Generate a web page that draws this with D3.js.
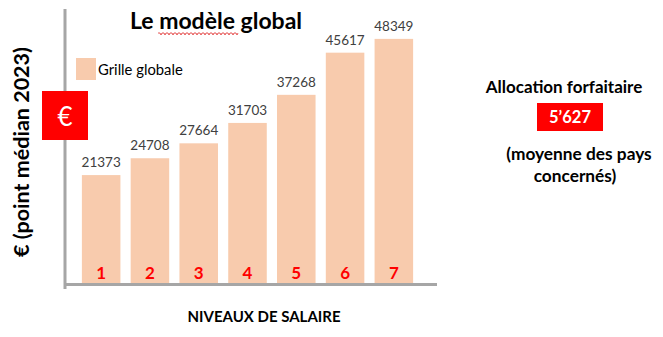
<!DOCTYPE html>
<html><head><meta charset="utf-8">
<script src="https://cdn.jsdelivr.net/npm/d3@7"></script>
<style>body{margin:0;background:#fff}svg{display:block}text{font-family:Lato,"Open Sans",sans-serif}</style>
</head><body>
<script>
const categories = ["1","2","3","4","5","6","7"];
const values = [21373,24708,27664,31703,37268,45617,48349];
const seriesName = "Grille globale";
const title = "Le modèle global";
const yLabel = "€ (point médian 2023)";
const xLabel = "NIVEAUX DE SALAIRE";
const allocTitle = "Allocation forfaitaire";
const allocValue = "5’627";
const allocNote = ["(moyenne des pays", "concernés)"];

const W = 663, H = 337;
const svg = d3.select("body").append("svg").attr("width", W).attr("height", H);

const x = d3.scaleBand().domain(categories).range([77, 418]).paddingInner(0.21).paddingOuter(0.1);
const y = d3.scaleLinear().domain([0, 55000]).range([283, 5.3]);
const barColor = "#F8CBAD";

svg.selectAll("rect.bar").data(values).join("rect").attr("class","bar")
  .attr("x", (d,i)=>x(categories[i])).attr("width", x.bandwidth())
  .attr("y", d=>y(d)).attr("height", d=>y(0)-y(d)).attr("fill", barColor);

svg.selectAll("text.val").data(values).join("text").attr("class","val")
  .attr("x",(d,i)=>x(categories[i])+x.bandwidth()/2).attr("y",d=>y(d)-8)
  .attr("text-anchor","middle").attr("font-size",13.5).attr("fill","#404040").text(d=>d);

svg.selectAll("text.cat").data(categories).join("text").attr("class","cat")
  .attr("x",d=>x(d)+x.bandwidth()/2).attr("y",279)
  .attr("text-anchor","middle").attr("font-size",17).attr("font-weight","bold").attr("fill","#FF0000").text(d=>d);

svg.append("line").attr("x1",65).attr("x2",65).attr("y1",9).attr("y2",289).attr("stroke","#A6A6A6").attr("stroke-width",3);
svg.append("line").attr("x1",64).attr("x2",437).attr("y1",y(0)+1.5).attr("y2",y(0)+1.5).attr("stroke","#A6A6A6").attr("stroke-width",3);

svg.append("text").attr("x",216).attr("y",29).attr("text-anchor","middle").attr("font-size",23).attr("font-weight","bold").attr("fill","#000").text(title);
{
  let p = "M158,33";
  for (let xx=158; xx<238; xx+=2) p += ` L${xx+1},${(xx/2)%2===0?35:33} L${xx+2},33`;
  svg.append("path").attr("d",p).attr("fill","none").attr("stroke","#E03030").attr("stroke-width",0.8);
}

svg.append("rect").attr("x",76).attr("y",58).attr("width",20).attr("height",22).attr("fill",barColor);
svg.append("text").attr("x",98).attr("y",75).attr("font-size",14.8).attr("fill","#000").text(seriesName);

svg.append("rect").attr("x",42).attr("y",91).attr("width",46).attr("height",49).attr("fill","#FF0000");
svg.append("text").attr("x",65).attr("y",126).attr("text-anchor","middle").attr("font-size",26).attr("fill","#fff").text("€");

svg.append("text").attr("transform","translate(29,152) rotate(-90)").attr("text-anchor","middle")
  .attr("font-size",21.5).attr("font-weight","bold").attr("fill","#000").text(yLabel);

svg.append("text").attr("x",264).attr("y",322).attr("text-anchor","middle").attr("font-size",15).attr("font-weight","bold").attr("fill","#000").text(xLabel);

svg.append("text").attr("x",564).attr("y",93).attr("text-anchor","middle").attr("font-size",17).attr("font-weight","bold").attr("fill","#000").text(allocTitle);
svg.append("rect").attr("x",537).attr("y",103).attr("width",66).attr("height",28).attr("fill","#FF0000");
svg.append("text").attr("x",570).attr("y",123).attr("text-anchor","middle").attr("font-size",16.5).attr("font-weight","bold").attr("fill","#fff").text(allocValue);
svg.selectAll("text.note").data(allocNote).join("text").attr("class","note")
  .attr("x",(d,i)=>i===0?579:575).attr("y",(d,i)=>160+i*22).attr("text-anchor","middle")
  .attr("font-size",17.3).attr("font-weight","bold").attr("fill","#000").text(d=>d);
</script>
</body></html>
